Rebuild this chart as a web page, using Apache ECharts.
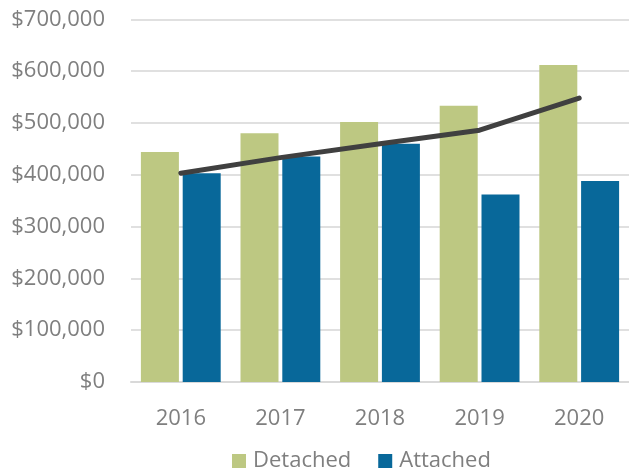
<!DOCTYPE html>
<html><head><meta charset="utf-8">
<script src="https://cdn.jsdelivr.net/npm/echarts@6/dist/echarts.min.js"></script>
<style>html,body{margin:0;padding:0;background:#fff}#c{width:629px;height:468px}</style>
</head><body><div id="c"></div>
<script>
const categories = ['2016','2017','2018','2019','2020'];
const detached = [444000, 480000, 502000, 533000, 612000];
const attached = [403000, 435000, 460000, 362000, 388000];
const overall = [403000, 433000, 460000, 486000, 548000];
const yTicks = [0, 700000, 100000];

const chart = echarts.init(document.getElementById('c'), null, {renderer:'canvas'});
const font = 'Open Sans';
const gray = '#7f7f7f';
chart.setOption({
  animation: false,
  grid: {left: 131, right: 0, top: 19.3, bottom: 86, containLabel: false},
  legend: {
    data: ['Detached','Attached'],
    left: 227, top: 445,
    itemWidth: 14, itemHeight: 14, itemGap: 27,
    icon: 'rect',
    textStyle: {color: gray, fontSize: 22, fontFamily: font, padding:[0,0,0,2]}
  },
  xAxis: {
    type: 'category', data: categories,
    axisLine: {lineStyle: {color: '#d9d9d9', width: 2}},
    axisTick: {show: false},
    axisLabel: {color: gray, fontSize: 22, fontFamily: font, margin: 26}
  },
  yAxis: {
    type: 'value', min: yTicks[0], max: yTicks[1], interval: yTicks[2],
    axisLine: {show: false}, axisTick: {show: false},
    splitLine: {lineStyle: {color: '#e0e0e0', width: 2}},
    axisLabel: {color: gray, fontSize: 22, fontFamily: font, margin: 26,
      formatter: v => '$' + v.toLocaleString('en-US')}
  },
  series: [
    {name: 'Detached', type: 'bar', data: detached, barWidth: 38, barGap: '10%',
     itemStyle: {color: '#bdc882'}},
    {name: 'Attached', type: 'bar', data: attached, barWidth: 38,
     itemStyle: {color: '#08689a'}},
    {name: 'Overall', type: 'line', data: overall, symbol: 'none', z: 5,
     lineStyle: {color: '#404040', width: 5, cap: 'round'}}
  ]
});
</script></body></html>
